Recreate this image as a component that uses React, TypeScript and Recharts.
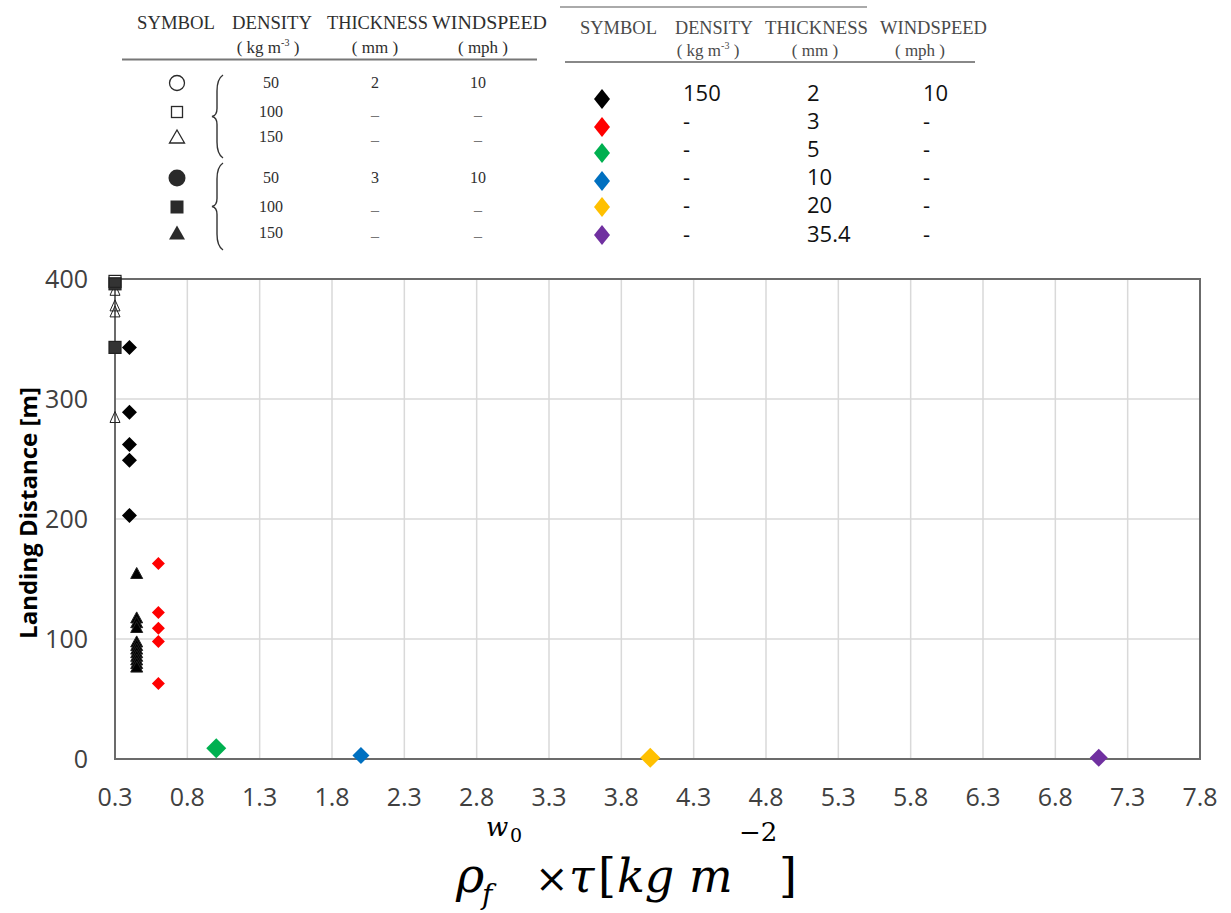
import React from "react";
import { ScatterChart, Scatter, XAxis, YAxis, CartesianGrid, ReferenceArea } from "recharts";

// ---- data ----
const xTicks = [0.3, 0.8, 1.3, 1.8, 2.3, 2.8, 3.3, 3.8, 4.3, 4.8, 5.3, 5.8, 6.3, 6.8, 7.3, 7.8];
const yTicks = [0, 100, 200, 300, 400];

const openSquare = [{ x: 0.3, y: 398 }];
const filledSquare = [{ x: 0.3, y: 396 }, { x: 0.3, y: 343 }];
const openTriangle = [{ x: 0.3, y: 391 }, { x: 0.3, y: 378 }, { x: 0.3, y: 373 }, { x: 0.3, y: 285 }];
const blackDiamond = [{ x: 0.4, y: 343 }, { x: 0.4, y: 289 }, { x: 0.4, y: 262 }, { x: 0.4, y: 249 }, { x: 0.4, y: 203 }];
const filledTriangle = [
  { x: 0.45, y: 155 }, { x: 0.45, y: 118 }, { x: 0.45, y: 114 }, { x: 0.45, y: 110 },
  { x: 0.45, y: 98 }, { x: 0.45, y: 95 }, { x: 0.45, y: 92 }, { x: 0.45, y: 89 },
  { x: 0.45, y: 86 }, { x: 0.45, y: 83 }, { x: 0.45, y: 80 }, { x: 0.45, y: 77 },
];
const redDiamond = [{ x: 0.6, y: 163 }, { x: 0.6, y: 122 }, { x: 0.6, y: 109 }, { x: 0.6, y: 98 }, { x: 0.6, y: 63 }];
const greenDiamond = [{ x: 1.0, y: 9 }];
const blueDiamond = [{ x: 2.0, y: 3 }];
const yellowDiamond = [{ x: 4.0, y: 1 }];
const purpleDiamond = [{ x: 7.1, y: 1 }];

// legend tables
const headers = ["SYMBOL", "DENSITY", "THICKNESS", "WINDSPEED"];
const leftDensity = ["50", "100", "150", "50", "100", "150"];
const leftThickness = ["2", "–", "–", "3", "–", "–"];
const leftWind = ["10", "–", "–", "10", "–", "–"];
const leftSymbols = ["openCircle", "openSquare", "openTriangle", "circle", "square", "triangle"];

const rightColors = ["#000000", "#FF0000", "#00B050", "#0070C0", "#FFC000", "#7030A0"];
const rightDensity = ["150", "-", "-", "-", "-", "-"];
const rightThickness = ["2", "3", "5", "10", "20", "35.4"];
const rightWind = ["10", "-", "-", "-", "-", "-"];

// ---- shapes ----
const diamond = (color: string, r: number) => (p: any) => {
  const { cx, cy } = p;
  return <polygon points={`${cx},${cy - r} ${cx + r},${cy} ${cx},${cy + r} ${cx - r},${cy}`} fill={color} />;
};
const triangle = (w: number, h: number, filled: boolean) => (p: any) => {
  const { cx, cy } = p;
  return (
    <polygon
      points={`${cx},${cy - h / 2} ${cx + w / 2},${cy + h / 2} ${cx - w / 2},${cy + h / 2}`}
      fill={filled ? "#000" : "none"}
      stroke="#222"
      strokeWidth={1}
    />
  );
};
const square = (s: number, filled: boolean) => (p: any) => {
  const { cx, cy } = p;
  return <rect x={cx - s / 2} y={cy - s / 2} width={s} height={s} fill={filled ? "#333" : "none"} stroke="#222" strokeWidth={1.2} />;
};

const serif = "'Liberation Serif', 'Times New Roman', serif";
const mathSerif = "'DejaVu Serif', serif";
const sans = "'Open Sans', sans-serif";

function LeftSymbol({ kind, x, y }: { kind: string; x: number; y: number }) {
  const c = "#2a2a2a";
  switch (kind) {
    case "openCircle":
      return <circle cx={x} cy={y} r={7.5} fill="none" stroke={c} strokeWidth={1.3} />;
    case "openSquare":
      return <rect x={x - 5.5} y={y - 5.5} width={11} height={11} fill="none" stroke={c} strokeWidth={1.3} />;
    case "openTriangle":
      return <polygon points={`${x},${y - 7} ${x + 7.5},${y + 6} ${x - 7.5},${y + 6}`} fill="none" stroke={c} strokeWidth={1.3} />;
    case "circle":
      return <circle cx={x} cy={y} r={8.5} fill={c} />;
    case "square":
      return <rect x={x - 6.5} y={y - 6.5} width={13} height={13} fill={c} />;
    default:
      return <polygon points={`${x},${y - 7.5} ${x + 8},${y + 6.5} ${x - 8},${y + 6.5}`} fill={c} />;
  }
}

const brace = (x: number, y1: number, y2: number) => {
  const m = (y1 + y2) / 2;
  return `M ${x + 6} ${y1} Q ${x} ${y1 + 4} ${x} ${y1 + 16} L ${x} ${m - 8} Q ${x} ${m - 1} ${x - 5} ${m} Q ${x} ${m + 1} ${x} ${m + 8} L ${x} ${y2 - 16} Q ${x} ${y2 - 4} ${x + 6} ${y2}`;
};

export default function App() {
  const leftRowsY = [83, 112, 137, 178, 207, 233];
  const rightDiaY = [99, 127, 153, 181, 207, 235];
  const rightTextY = [101, 129, 157, 185, 213, 242];
  const leftHeadX = [137, 232, 327, 432];
  const leftHeadW = [78, 80, 101, 115];
  const rightHeadX = [580, 675, 765, 880];
  const rightHeadW = [77, 78, 103, 107];
  return (
    <div style={{ position: "absolute", left: 0, top: 0, width: 1231, height: 913, background: "#fff", overflow: "hidden" }}>
      <div style={{ position: "absolute", left: 0, top: 260 }}>
        <ScatterChart width={1231} height={600} margin={{ top: 19, right: 31, bottom: 41, left: 0 }}>
          <CartesianGrid stroke="#d9d9d9" strokeWidth={1.5} />
          <XAxis
            type="number"
            dataKey="x"
            domain={[0.3, 7.8]}
            ticks={xTicks}
            interval={0}
            height={60}
            tickLine={false}
            axisLine={false}
            tickSize={0}
            tickMargin={29}
            tickFormatter={(v: number) => v.toFixed(1)}
            tick={{ fontSize: 25, fill: "#404040", fontFamily: sans }}
          />
          <YAxis
            type="number"
            dataKey="y"
            domain={[0, 400]}
            ticks={yTicks}
            interval={0}
            width={115}
            tickLine={false}
            axisLine={false}
            tickSize={0}
            tickMargin={27}
            tick={{ fontSize: 25, fill: "#404040", fontFamily: sans }}
          />
          <ReferenceArea x1={0.3} x2={7.8} y1={0} y2={400} fill="none" stroke="#6b6b6b" strokeWidth={2} />
          <Scatter data={openTriangle} shape={triangle(10, 11, false)} isAnimationActive={false} />
          <Scatter data={filledSquare} shape={square(12, true)} isAnimationActive={false} />
          <Scatter data={openSquare} shape={square(12, false)} isAnimationActive={false} />
          <Scatter data={blackDiamond} shape={diamond("#000", 7.5)} isAnimationActive={false} />
          <Scatter data={filledTriangle} shape={triangle(12, 11, true)} isAnimationActive={false} />
          <Scatter data={redDiamond} shape={diamond("#FF0000", 6.5)} isAnimationActive={false} />
          <Scatter data={greenDiamond} shape={diamond("#00B050", 10)} isAnimationActive={false} />
          <Scatter data={blueDiamond} shape={diamond("#0070C0", 8.5)} isAnimationActive={false} />
          <Scatter data={yellowDiamond} shape={diamond("#FFC000", 10)} isAnimationActive={false} />
          <Scatter data={purpleDiamond} shape={diamond("#7030A0", 9)} isAnimationActive={false} />
        </ScatterChart>
      </div>

      <svg width={1231} height={913} style={{ position: "absolute", left: 0, top: 0, pointerEvents: "none" }}>
        {/* ---- left legend table ---- */}
        <g fontFamily={serif} fontSize={19} fill="#2e2e2e">
          {headers.map((h, i) => (
            <text key={"lh" + i} x={leftHeadX[i]} y={29} textLength={leftHeadW[i]} lengthAdjust="spacingAndGlyphs">{h}</text>
          ))}
          <text x={268} y={53} textAnchor="middle" fontSize={17}>
            ( kg m<tspan fontSize={10} dy={-7}>-3</tspan><tspan dy={7}> )</tspan>
          </text>
          <text x={375} y={53} textAnchor="middle" fontSize={17}>( mm )</text>
          <text x={483} y={53} textAnchor="middle" fontSize={17}>( mph )</text>
        </g>
        <line x1={122} x2={537} y1={59.5} y2={59.5} stroke="#777" strokeWidth={2} />
        {leftRowsY.map((y, i) => (
          <g key={"l" + i} fontFamily={serif} fontSize={16} fill="#2e2e2e" textAnchor="middle">
            <LeftSymbol kind={leftSymbols[i]} x={177} y={y} />
            <text x={271} y={y + 5}>{leftDensity[i]}</text>
            <text x={375} y={leftThickness[i] === "–" ? y + 8 : y + 5} fill={leftThickness[i] === "–" ? "#777" : "#2e2e2e"}>{leftThickness[i]}</text>
            <text x={478} y={leftWind[i] === "–" ? y + 8 : y + 5} fill={leftWind[i] === "–" ? "#777" : "#2e2e2e"}>{leftWind[i]}</text>
          </g>
        ))}
        <path d={brace(217, 75, 158)} fill="none" stroke="#333" strokeWidth={1.4} />
        <path d={brace(217, 163, 250)} fill="none" stroke="#333" strokeWidth={1.4} />

        {/* ---- right legend table ---- */}
        <line x1={560} x2={867} y1={7} y2={7} stroke="#aaa" strokeWidth={2} />
        <g fontFamily={serif} fontSize={19} fill="#4a4a4a">
          {headers.map((h, i) => (
            <text key={"rh" + i} x={rightHeadX[i]} y={34} textLength={rightHeadW[i]} lengthAdjust="spacingAndGlyphs">{h}</text>
          ))}
          <text x={708} y={56} textAnchor="middle" fontSize={17}>
            ( kg m<tspan fontSize={10} dy={-7}>-3</tspan><tspan dy={7}> )</tspan>
          </text>
          <text x={815} y={56} textAnchor="middle" fontSize={17}>( mm )</text>
          <text x={920} y={56} textAnchor="middle" fontSize={17}>( mph )</text>
        </g>
        <line x1={565} x2={975} y1={62} y2={62} stroke="#888" strokeWidth={2} />
        {rightDiaY.map((y, i) => (
          <g key={"r" + i} fontFamily={sans} fontSize={22} fill="#111">
            <polygon points={`602,${y - 10} 610,${y} 602,${y + 10} 594,${y}`} fill={rightColors[i]} />
            <text x={683} y={rightTextY[i]}>{rightDensity[i]}</text>
            <text x={807} y={rightTextY[i]}>{rightThickness[i]}</text>
            <text x={923} y={rightTextY[i]}>{rightWind[i]}</text>
          </g>
        ))}

        {/* ---- axis titles ---- */}
        <text
          x={27}
          y={513}
          transform="rotate(-90 27 513)"
          textAnchor="middle"
          dominantBaseline="central"
          fontFamily={sans}
          fontWeight="bold"
          fontSize={24}
          fill="#000"
        >
          Landing Distance [m]
        </text>
        <text fontFamily={mathSerif} fill="#000">
          <tspan x={456} y={892} fontSize={48} fontStyle="italic">ρ</tspan>
          <tspan x={482} y={904} fontSize={28} fontStyle="italic">f</tspan>
          <tspan x={486} y={836} fontSize={26} fontStyle="italic">w</tspan>
          <tspan x={510} y={842} fontSize={19}>0</tspan>
          <tspan x={535} y={892} fontSize={40}>×</tspan>
          <tspan x={569} y={892} fontSize={46} fontStyle="italic">τ</tspan>
          <tspan x={598} y={892} fontSize={46}>[</tspan>
          <tspan x={617} y={892} fontSize={46} fontStyle="italic">kg m</tspan>
          <tspan x={739} y={841} fontSize={26}>−2</tspan>
          <tspan x={779} y={892} fontSize={46}>]</tspan>
        </text>
      </svg>
    </div>
  );
}
